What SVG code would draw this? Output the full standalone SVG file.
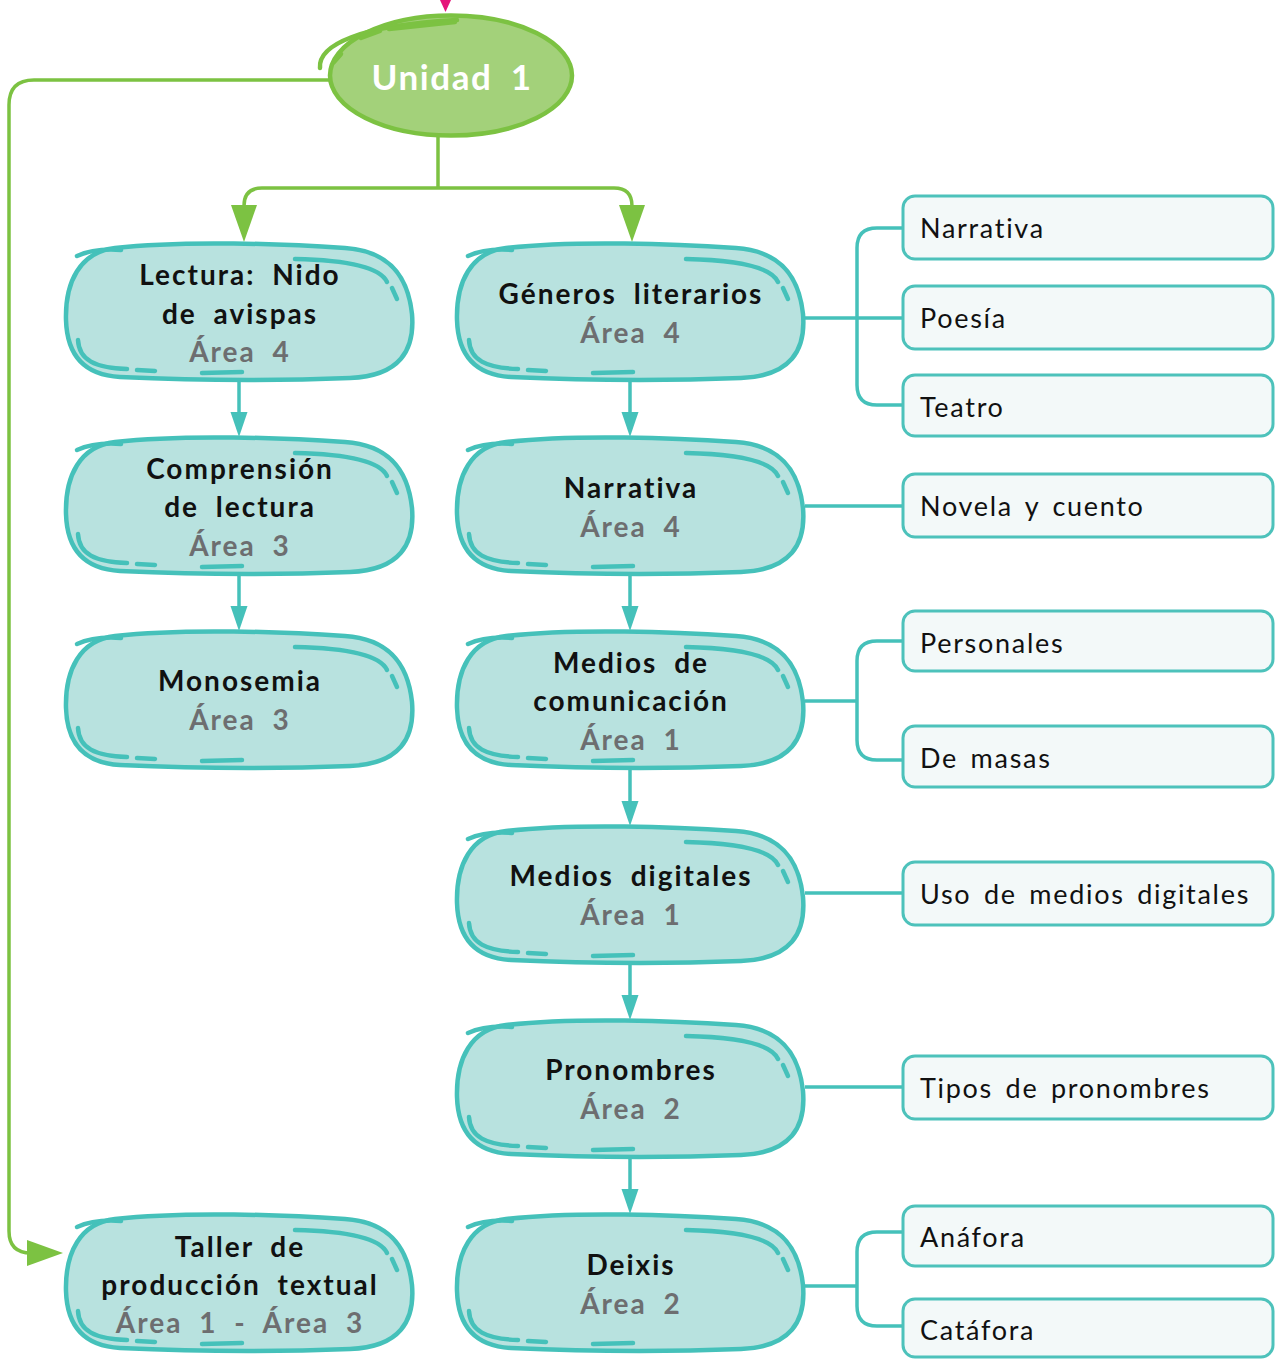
<svg xmlns="http://www.w3.org/2000/svg" xmlns:xlink="http://www.w3.org/1999/xlink" width="1275" height="1359" viewBox="0 0 1275 1359">
<style>
.blob{fill:#B8E2DF;stroke:#45C1BA;stroke-width:4.5}
.hl{fill:none;stroke:#45C1BA;stroke-width:4.5;stroke-linecap:round}
.t{font-family:Lato,"Liberation Sans",sans-serif;font-weight:700;font-size:28px;fill:#111;text-anchor:middle;word-spacing:8px;letter-spacing:2px}
.a{fill:#6D6E70}
.leaf{fill:#F3F9F9;stroke:#4DC2BB;stroke-width:3}
.lt{font-family:Lato,"Liberation Sans",sans-serif;font-size:27px;fill:#111;word-spacing:4px;letter-spacing:1.7px}
.tc{fill:none;stroke:#45C1BA;stroke-width:3.5}
.gc{fill:none;stroke:#7CC242;stroke-width:3.5}
.tah{fill:#45C1BA;stroke:none}
.gah{fill:#7CC242;stroke:none}
</style>
<defs>
<g id="blobShape">
<path class="blob" d="M 50,6 C 120,-2 220,2 280,6 C 325,9 343,35 347,72 C 350,108 335,134 285,136 C 210,139 120,138 55,135 C 18,133 2,112 1,78 C 0,40 15,10 50,6 Z"/>
<path class="hl" d="M 12,14 Q 30,6 56,8"/>
<path class="hl" d="M 230,17 C 280,18 315,25 322,40"/>
<path class="hl" d="M 327,46 L 332,57"/>
<path class="hl" d="M 13,98 C 14,118 30,126 62,127"/>
<path class="hl" d="M 72,128 L 90,129"/>
<path class="hl" d="M 137,131 L 177,130"/>
</g>
</defs>

<g id="connectors">
<path d="M440,0 L451,0 L445.5,12 Z" fill="#E5157A"/>
<path class="gc" d="M438,137 L438,188"/>
<path class="gc" d="M438,188 L262,188 Q244,188 244,206"/>
<path class="gc" d="M438,188 L614,188 Q632,188 632,206"/>
<path class="gah" d="M231,205 L257,205 L244,242 Z"/>
<path class="gah" d="M619,205 L645,205 L632,242 Z"/>
<path class="gc" d="M331,80 L34,80 Q9,80 9,105 L9,1231 Q9,1253 31,1253 L30,1253"/>
<path class="gah" d="M27,1240 L63,1253 L27,1266 Z"/>
<path class="tc" d="M239,380 L239,415"/><path class="tah" d="M230.5,412 L247.5,412 L239,437 Z"/>
<path class="tc" d="M239,574 L239,609"/><path class="tah" d="M230.5,606 L247.5,606 L239,631 Z"/>
<path class="tc" d="M630,380 L630,415"/><path class="tah" d="M621.5,412 L638.5,412 L630,437 Z"/>
<path class="tc" d="M630,574 L630,609"/><path class="tah" d="M621.5,606 L638.5,606 L630,631 Z"/>
<path class="tc" d="M630,767 L630,804"/><path class="tah" d="M621.5,801 L638.5,801 L630,826 Z"/>
<path class="tc" d="M630,962 L630,998"/><path class="tah" d="M621.5,995 L638.5,995 L630,1020 Z"/>
<path class="tc" d="M630,1156 L630,1192"/><path class="tah" d="M621.5,1189 L638.5,1189 L630,1214 Z"/>
<path class="tc" d="M805,318 L903,318"/>
<path class="tc" d="M903,228 L877,228 Q857,228 857,248 L857,385 Q857,405 877,405 L903,405"/>
<path class="tc" d="M805,506 L903,506"/>
<path class="tc" d="M805,701 L857,701"/>
<path class="tc" d="M903,641 L877,641 Q857,641 857,661 L857,740 Q857,760 877,760 L903,760"/>
<path class="tc" d="M805,893 L903,893"/>
<path class="tc" d="M805,1087 L903,1087"/>
<path class="tc" d="M805,1286 L857,1286"/>
<path class="tc" d="M903,1232 L877,1232 Q857,1232 857,1252 L857,1306 Q857,1326 877,1326 L903,1326"/>
</g>

<g id="unidad1">
<ellipse cx="451" cy="75.5" rx="121" ry="60" fill="#A3D17A" stroke="#7CC242" stroke-width="4.5"/>
<path d="M320,68 C318,45 360,25 457,20" fill="none" stroke="#7CC242" stroke-width="4.5" stroke-linecap="round"/>
<path d="M361,38 L380,31 M389,29 L455,22 M341,54 L334,62" fill="none" stroke="#7CC242" stroke-width="4.5" stroke-linecap="round"/>
<text x="452" y="90" style="font-family:Lato,'Liberation Sans',sans-serif;font-weight:700;font-size:35px;fill:#fff;text-anchor:middle;word-spacing:8px;letter-spacing:1.6px">Unidad 1</text>
</g>

<g id="lectura">
<use xlink:href="#blobShape" transform="translate(65,242)"/>
<text class="t" x="240" y="285">Lectura: Nido</text>
<text class="t" x="240" y="324">de avispas</text>
<text class="t a" x="240" y="362">Área 4</text>
</g>
<g id="comprension">
<use xlink:href="#blobShape" transform="translate(65,436)"/>
<text class="t" x="240" y="479">Comprensión</text>
<text class="t" x="240" y="517">de lectura</text>
<text class="t a" x="240" y="556">Área 3</text>
</g>
<g id="monosemia">
<use xlink:href="#blobShape" transform="translate(65,630)"/>
<text class="t" x="240" y="691">Monosemia</text>
<text class="t a" x="240" y="730">Área 3</text>
</g>
<g id="taller">
<use xlink:href="#blobShape" transform="translate(65,1213)"/>
<text class="t" x="240" y="1257">Taller de</text>
<text class="t" x="240" y="1295">producción textual</text>
<text class="t a" x="240" y="1333">Área 1 - Área 3</text>
</g>

<g id="generos">
<use xlink:href="#blobShape" transform="translate(456,242)"/>
<text class="t" x="631" y="304">Géneros literarios</text>
<text class="t a" x="631" y="343">Área 4</text>
</g>
<g id="narrativa">
<use xlink:href="#blobShape" transform="translate(456,436)"/>
<text class="t" x="631" y="498">Narrativa</text>
<text class="t a" x="631" y="537">Área 4</text>
</g>
<g id="medios">
<use xlink:href="#blobShape" transform="translate(456,630)"/>
<text class="t" x="631" y="673">Medios de</text>
<text class="t" x="631" y="711">comunicación</text>
<text class="t a" x="631" y="750">Área 1</text>
</g>
<g id="digitales">
<use xlink:href="#blobShape" transform="translate(456,825)"/>
<text class="t" x="631" y="886">Medios digitales</text>
<text class="t a" x="631" y="925">Área 1</text>
</g>
<g id="pronombres">
<use xlink:href="#blobShape" transform="translate(456,1019)"/>
<text class="t" x="631" y="1080">Pronombres</text>
<text class="t a" x="631" y="1119">Área 2</text>
</g>
<g id="deixis">
<use xlink:href="#blobShape" transform="translate(456,1213)"/>
<text class="t" x="631" y="1275">Deixis</text>
<text class="t a" x="631" y="1314">Área 2</text>
</g>

<g id="leaf-narrativa"><rect class="leaf" x="903" y="196" width="370" height="63" rx="12"/><text class="lt" x="920" y="238">Narrativa</text></g>
<g id="leaf-poesia"><rect class="leaf" x="903" y="286" width="370" height="63" rx="12"/><text class="lt" x="920" y="328">Poesía</text></g>
<g id="leaf-teatro"><rect class="leaf" x="903" y="375" width="370" height="61" rx="12"/><text class="lt" x="920" y="417">Teatro</text></g>
<g id="leaf-novela"><rect class="leaf" x="903" y="474" width="370" height="63" rx="12"/><text class="lt" x="920" y="516">Novela y cuento</text></g>
<g id="leaf-personales"><rect class="leaf" x="903" y="611" width="370" height="60" rx="12"/><text class="lt" x="920" y="653">Personales</text></g>
<g id="leaf-masas"><rect class="leaf" x="903" y="726" width="370" height="61" rx="12"/><text class="lt" x="920" y="768">De masas</text></g>
<g id="leaf-uso"><rect class="leaf" x="903" y="862" width="370" height="63" rx="12"/><text class="lt" x="920" y="904">Uso de medios digitales</text></g>
<g id="leaf-tipos"><rect class="leaf" x="903" y="1056" width="370" height="63" rx="12"/><text class="lt" x="920" y="1098">Tipos de pronombres</text></g>
<g id="leaf-anafora"><rect class="leaf" x="903" y="1206" width="370" height="60" rx="12"/><text class="lt" x="920" y="1247">Anáfora</text></g>
<g id="leaf-catafora"><rect class="leaf" x="903" y="1299" width="370" height="58" rx="12"/><text class="lt" x="920" y="1340">Catáfora</text></g>
</svg>
